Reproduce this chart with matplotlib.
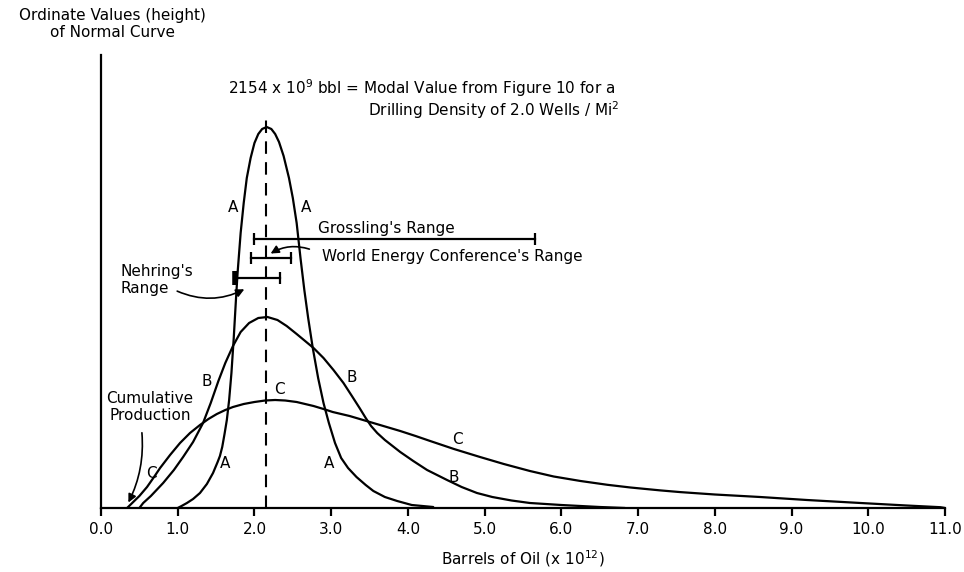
import matplotlib
matplotlib.use("Agg")
import matplotlib.pyplot as plt

# curve A (narrow): x in 10^12 bbl, y = ordinate height
a_x = [1.00, 1.05, 1.12, 1.20, 1.29, 1.38, 1.46, 1.52, 1.55, 1.58, 1.61, 1.64, 1.67,
       1.70, 1.73, 1.76, 1.78, 1.82, 1.86, 1.90, 1.95, 2.00, 2.05, 2.10, 2.16, 2.22,
       2.27, 2.32, 2.38, 2.45, 2.50, 2.55, 2.60, 2.65, 2.70, 2.76, 2.83, 2.90, 2.97,
       3.05, 3.13, 3.22, 3.33, 3.45, 3.55, 3.70, 3.86, 4.05, 4.33]
a_y = [0, 2, 5, 9, 15, 24, 35, 46, 52, 61, 74, 88, 108,
       135, 170, 210, 235, 275, 305, 330, 350, 365, 374, 379, 381, 379,
       374, 366, 352, 330, 310, 285, 250, 218, 190, 160, 130, 105, 85,
       65, 50, 40, 31, 23, 17, 11, 7, 3, 1]

# curve B (medium)
b_x = [0.50, 0.55, 0.65, 0.81, 0.95, 1.07, 1.20, 1.33, 1.43, 1.53, 1.62, 1.72, 1.82,
       1.93, 2.05, 2.17, 2.30, 2.42, 2.55, 2.66, 2.77, 2.90, 3.03, 3.16, 3.27, 3.37,
       3.45, 3.52, 3.60, 3.70, 3.80, 3.90, 4.07, 4.25, 4.51, 4.70, 4.90, 5.10, 5.35,
       5.59, 6.00, 6.25, 6.50, 6.83]
b_y = [0, 5, 12, 25, 38, 51, 66, 85, 105, 127, 145, 162, 176,
       185, 190, 191, 188, 182, 174, 167, 160, 150, 138, 125, 112, 100,
       90, 82, 75, 68, 62, 56, 47, 38, 28, 21, 15, 11, 7.5,
       5, 3, 2, 1, 0]

# curve C (wide)
c_x = [0.34, 0.42, 0.50, 0.60, 0.70, 0.77, 0.90, 1.03, 1.16, 1.29, 1.40, 1.51, 1.62,
       1.72, 1.86, 2.00, 2.14, 2.27, 2.40, 2.55, 2.66, 2.77, 2.90, 3.02, 3.24, 3.46,
       3.68, 3.90, 4.10, 4.29, 4.60, 4.94, 5.25, 5.59, 5.90, 6.25, 6.60, 6.90, 7.29,
       7.55, 8.00, 8.59, 9.20, 9.90, 10.50, 10.94, 11.00]
c_y = [0, 6, 12, 21, 32, 40, 53, 65, 75, 83, 89, 94, 98,
       101, 104, 106, 107.5, 108, 107.5, 106, 104, 102, 99, 96, 92, 87,
       82, 77, 72, 67, 59, 51, 44, 37, 31.5, 27, 23.2, 20.5, 17.6,
       15.9, 13.5, 11, 8, 5, 2.5, 0.8, 0]

modal_value = 2.154
cum_production = 0.34

# ranges: Grossling, World Energy Conference, Nehring
range_low = [1.99, 1.96, 1.75]
range_high = [5.66, 2.48, 2.33]
range_level = [269, 250, 230]

xticks = [0, 1, 2, 3, 4, 5, 6, 7, 8, 9, 10, 11]
xtick_labels = ["0.0", "1.0", "2.0", "3.0", "4.0", "5.0", "6.0", "7.0", "8.0", "9.0", "10.0", "11.0"]

plt.rcParams["font.family"] = ["DejaVu Sans"]
fs = 11

fig = plt.figure(figsize=(9.64, 5.72), dpi=100)
ax = fig.add_axes([101 / 964, 1 - 508 / 572, 844 / 964, 453 / 572])

lw = 1.6
for xs, ys in [(a_x, a_y), (b_x, b_y), (c_x, c_y)]:
    ax.plot(xs, ys, color="black", lw=lw, solid_joinstyle="round", solid_capstyle="round")

# modal value dashed line
ax.vlines(modal_value, 0, 395, colors="black", lw=1.5, linestyles=(0, (6, 4)))

# range bars
for lo, hi, lev in zip(range_low, range_high, range_level):
    ax.plot([lo, hi], [lev, lev], color="black", lw=1.6)
    ax.plot([lo, hi], [lev, lev], ls="none", marker="|", ms=9, mew=1.6, color="black")
# thick left end on Nehring's bar
ax.plot([range_low[2]], [range_level[2]], ls="none", marker="|", ms=10, mew=4, color="black")

# curve labels
labels = [("A", 1.72, 301), ("A", 2.67, 301), ("A", 1.62, 45), ("A", 2.97, 45),
          ("B", 1.38, 126), ("B", 3.27, 130), ("B", 4.60, 31),
          ("C", 0.66, 35), ("C", 2.33, 118), ("C", 4.65, 68)]
for t, x, y in labels:
    ax.text(x, y, t, fontsize=fs, ha="center", va="center")

# annotations
ax.text(1.66, 420, "2154 x 10$^9$ bbl = Modal Value from Figure 10 for a",
        fontsize=fs, ha="left", va="center")
ax.text(3.48, 398, "Drilling Density of 2.0 Wells / Mi$^2$",
        fontsize=fs, ha="left", va="center")
ax.text(2.83, 280, "Grossling's Range", fontsize=fs, ha="left", va="center")
ax.text(2.88, 251, "World Energy Conference's Range", fontsize=fs, ha="left", va="center")
ax.text(0.25, 228, "Nehring's\nRange", fontsize=fs, ha="left", va="center",
        linespacing=1.15)
ax.text(0.64, 101, "Cumulative\nProduction", fontsize=fs, ha="center", va="center",
        linespacing=1.15)

arrow = dict(arrowstyle="-|>", color="black", lw=1.2, mutation_scale=12)
ax.annotate("", xy=(2.18, 253), xytext=(2.75, 258),
            arrowprops=dict(arrow, connectionstyle="arc3,rad=0.25"))
ax.annotate("", xy=(1.90, 220), xytext=(0.96, 218),
            arrowprops=dict(arrow, connectionstyle="arc3,rad=0.25"))
ax.annotate("", xy=(cum_production, 3), xytext=(0.53, 78),
            arrowprops=dict(arrow, connectionstyle="arc3,rad=-0.15"))

ax.set_xlim(0, 11)
ax.set_ylim(0, 453)
ax.spines["top"].set_visible(False)
ax.spines["right"].set_visible(False)
for s in ["left", "bottom"]:
    ax.spines[s].set_linewidth(1.6)
ax.set_yticks([])
ax.set_xticks(xticks)
ax.set_xticklabels(xtick_labels, fontsize=fs)
ax.tick_params(axis="x", direction="out", length=6, width=1.6, pad=4)
ax.set_xlabel("Barrels of Oil (x 10$^{12}$)", fontsize=fs, labelpad=8)

fig.text(112 / 964, 1 - 24 / 572, "Ordinate Values (height)\nof Normal Curve",
         fontsize=fs, ha="center", va="center", linespacing=1.1)

fig.savefig("out.png", dpi=100)
